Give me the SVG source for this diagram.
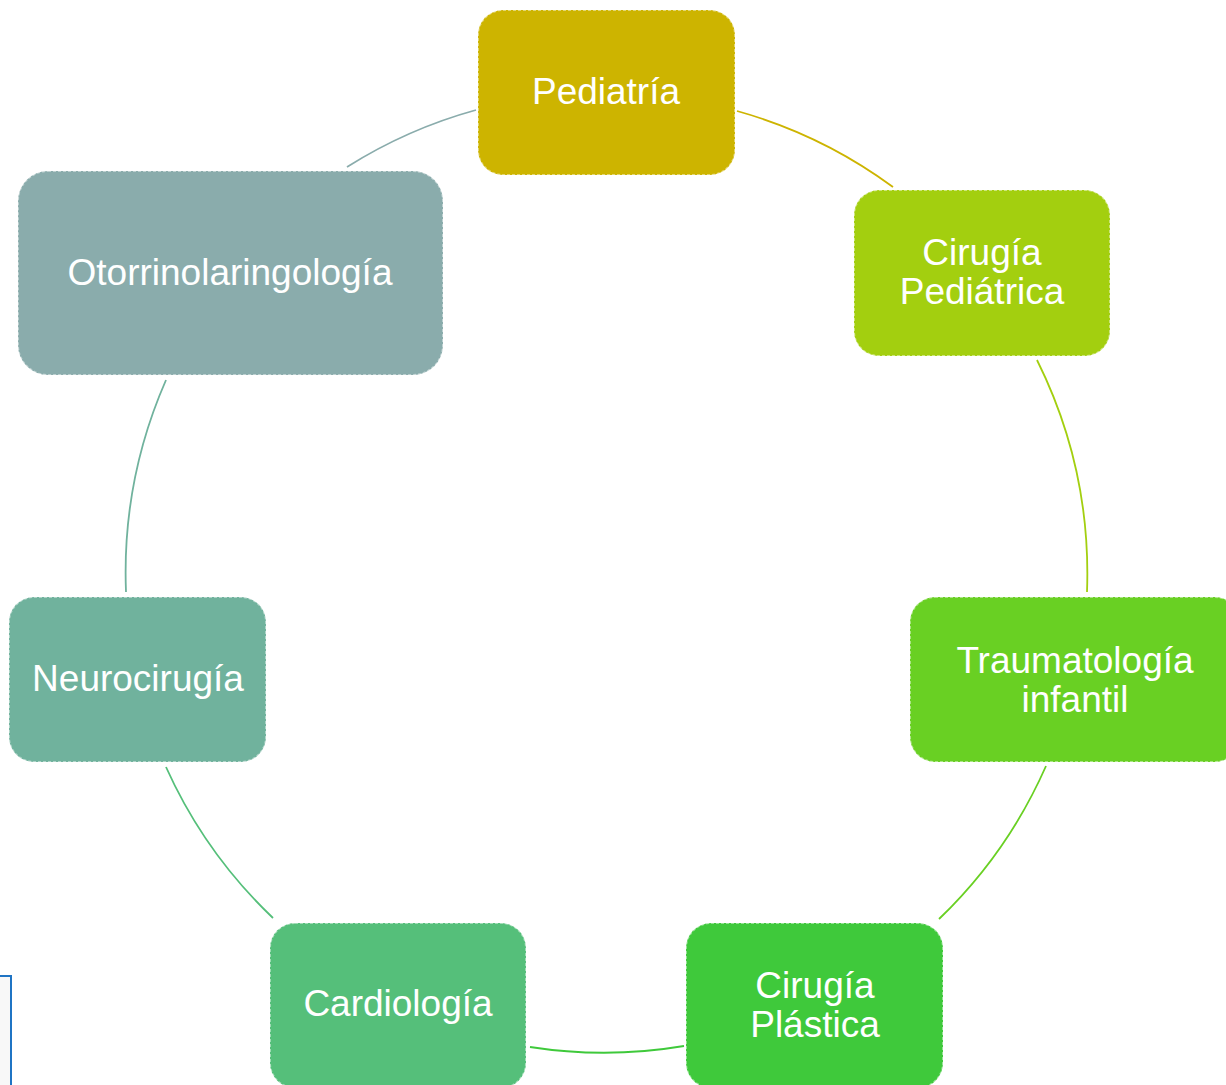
<svg xmlns="http://www.w3.org/2000/svg" width="1226" height="1085" viewBox="0 0 1226 1085">
  <style>
    .node { stroke: #ffffff; stroke-opacity: 0.45; stroke-width: 2; stroke-dasharray: 3 2; }
    .lbl { font-family: "Liberation Sans", Arial, sans-serif; font-size: 37px; fill: #ffffff; text-anchor: middle; }
    .arc { fill: none; stroke-width: 1.8; }
  </style>
  <rect width="1226" height="1085" fill="#ffffff"/>
  <rect x="-6" y="976" width="17" height="120" fill="#f8f8f8" stroke="#1f74c4" stroke-width="2"/>
  <g id="connectors">
    <path class="arc" stroke="#CDB400" d="M737,111 A481,481 0 0 1 893,187"/>
    <path class="arc" stroke="#A3CF0F" d="M1037,360 A481,481 0 0 1 1087,592"/>
    <path class="arc" stroke="#69D023" d="M1046,766 A481,481 0 0 1 939,919"/>
    <path class="arc" stroke="#3FC93B" d="M684,1046 A481,481 0 0 1 530,1047"/>
    <path class="arc" stroke="#55BF7A" d="M273,918 A481,481 0 0 1 166,767"/>
    <path class="arc" stroke="#70B29D" d="M126,592 A481,481 0 0 1 166,380"/>
    <path class="arc" stroke="#8AACAC" d="M347,167 A481,481 0 0 1 476,110"/>
  </g>
  <g id="pediatria">
    <rect class="node" x="478" y="10" width="257" height="165" rx="25" fill="#CDB400"/>
    <text class="lbl" x="606" y="104">Pediatría</text>
  </g>
  <g id="cirugia-pediatrica">
    <rect class="node" x="854" y="190" width="256" height="166" rx="25" fill="#A3CF0F"/>
    <text class="lbl" x="982" y="265">Cirugía</text>
    <text class="lbl" x="982" y="304">Pediátrica</text>
  </g>
  <g id="traumatologia">
    <rect class="node" x="910" y="597" width="330" height="165" rx="25" fill="#69D023"/>
    <text class="lbl" x="1075" y="673">Traumatología</text>
    <text class="lbl" x="1075" y="712">infantil</text>
  </g>
  <g id="cirugia-plastica">
    <rect class="node" x="686" y="923" width="257" height="165" rx="25" fill="#3FC93B"/>
    <text class="lbl" x="815" y="998">Cirugía</text>
    <text class="lbl" x="815" y="1037">Plástica</text>
  </g>
  <g id="cardiologia">
    <rect class="node" x="270" y="923" width="256" height="165" rx="25" fill="#55BF7A"/>
    <text class="lbl" x="398" y="1016">Cardiología</text>
  </g>
  <g id="neurocirugia">
    <rect class="node" x="9" y="597" width="257" height="165" rx="25" fill="#70B29D"/>
    <text class="lbl" x="138" y="691">Neurocirugía</text>
  </g>
  <g id="otorrinolaringologia">
    <rect class="node" x="18" y="171" width="425" height="204" rx="30" fill="#8AACAC"/>
    <text class="lbl" x="230" y="285">Otorrinolaringología</text>
  </g>
</svg>
